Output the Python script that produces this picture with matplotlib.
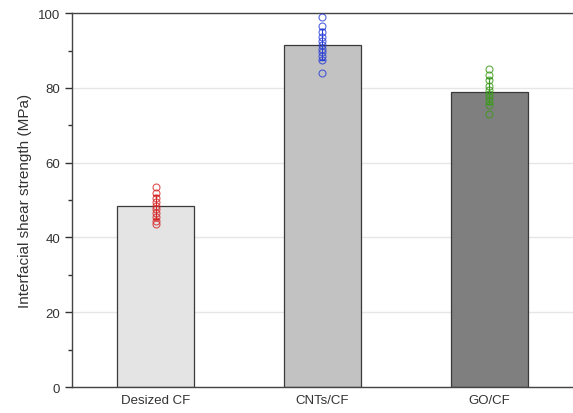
import matplotlib.pyplot as plt
import numpy as np

plt.rcParams['font.family'] = ['Liberation Sans', 'DejaVu Sans']

# data
categories = ["Desized CF", "CNTs/CF", "GO/CF"]
means = [48.4, 91.4, 78.9]
bar_colors = ['#e4e4e4', '#c2c2c2', '#7f7f7f']
pt_colors = ['#d62728', '#2a3fd6', '#3a9a1a']

desized_pts = [53.5, 52.0, 50.5, 49.5, 48.5, 47.5, 46.5, 45.5, 44.5, 43.5]
cnts_pts = [99.0, 96.5, 95.0, 93.5, 92.5, 91.5, 90.5, 89.5, 88.5, 87.5, 84.0]
go_pts = [85.0, 83.5, 82.0, 80.5, 79.5, 78.5, 77.5, 76.5, 75.5, 73.0]
all_pts = [desized_pts, cnts_pts, go_pts]

fig = plt.figure(figsize=(5.73, 4.14), dpi=100)
ax = fig.add_axes([0.1257, 0.0628, 0.88, 0.903])

x = np.arange(len(categories))
ax.yaxis.grid(True, color='#e6e6e6', linewidth=1.0)
ax.set_axisbelow(True)
ax.bar(x, means, 0.46, color=bar_colors, edgecolor='#3a3a3a', linewidth=0.9, zorder=2)

for i, pts in enumerate(all_pts):
    pts = np.array(pts)
    ax.errorbar(x[i], pts.mean(), yerr=pts.std(), color=pt_colors[i], capsize=2,
                linewidth=0.8, zorder=3)
    ax.plot(np.full(len(pts), x[i]), pts, 'o', markerfacecolor='none',
            markeredgecolor=pt_colors[i], markersize=5, markeredgewidth=0.8,
            alpha=0.8, zorder=4)

ax.set_xlim(-0.5, 2.52)
ax.set_ylim(0, 100)
ax.set_yticks(np.arange(0, 101, 20))
ax.set_yticks(np.arange(10, 100, 20), minor=True)
ax.set_xticks(x)
ax.set_xticklabels(categories)
ax.tick_params(axis='x', length=0, labelsize=9.5, colors='#333333', pad=5)
ax.tick_params(axis='y', which='major', length=5, width=1, labelsize=9.5, colors='#333333')
ax.tick_params(axis='y', which='minor', length=3, width=1, colors='#333333')
ax.set_ylabel('Interfacial shear strength (MPa)', fontsize=11, color='#333333')

for s in ['left', 'bottom', 'top']:
    ax.spines[s].set_color('#444444')
    ax.spines[s].set_linewidth(1.0)
ax.spines['right'].set_visible(False)

plt.savefig('out.png', dpi=100)
